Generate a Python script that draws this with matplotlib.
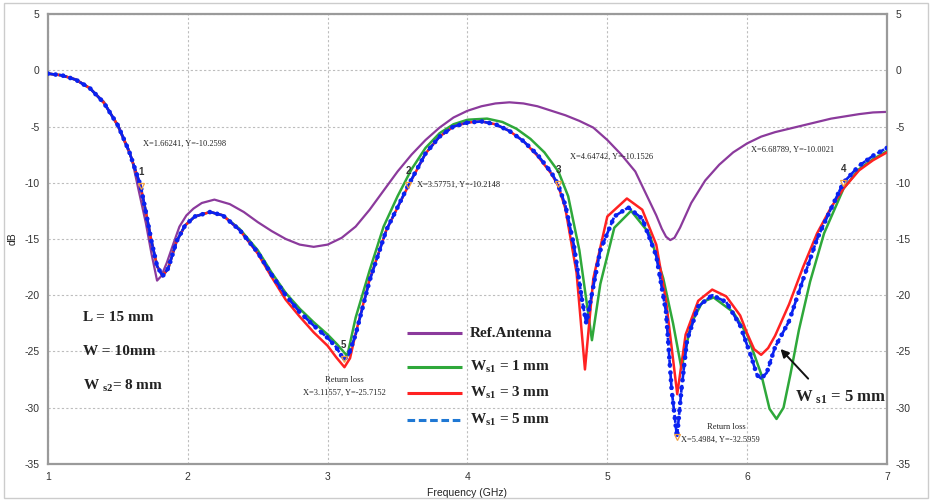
import matplotlib
matplotlib.use("Agg")
import matplotlib.pyplot as plt
from matplotlib.patches import Rectangle

# Return loss (dB) vs frequency (GHz) for the reference antenna and three slot widths
ref_f = [1.0, 1.1, 1.2, 1.3, 1.4, 1.5, 1.6, 1.64, 1.7, 1.74, 1.78, 1.81, 1.85, 1.9,
         1.94, 1.99, 2.04, 2.1, 2.19, 2.3, 2.4, 2.5, 2.6, 2.7, 2.8, 2.9, 3.0, 3.1, 3.2,
         3.3, 3.4, 3.5, 3.6, 3.7, 3.8, 3.9, 4.0, 4.1, 4.2, 4.3, 4.4, 4.5, 4.6, 4.7,
         4.8, 4.9, 5.0, 5.1, 5.2, 5.3, 5.35, 5.39, 5.42, 5.45, 5.48, 5.52, 5.6, 5.7,
         5.8, 5.9, 6.0, 6.1, 6.2, 6.3, 6.4, 6.5, 6.6, 6.7, 6.8, 6.9, 7.0]
ref_db = [-0.3, -0.45, -0.8, -1.6, -2.8, -5.0, -7.9, -10.2, -13.6, -16.3, -18.7, -18.3,
          -17.1, -15.3, -13.9, -12.9, -12.3, -11.8, -11.5, -11.9, -12.6, -13.5, -14.3,
          -15.0, -15.5, -15.7, -15.5, -14.9, -13.9, -12.4, -10.7, -9.0, -7.5, -6.2,
          -5.1, -4.2, -3.6, -3.2, -2.95, -2.85, -2.95, -3.2, -3.6, -4.0, -4.5, -5.1,
          -6.2, -7.5, -9.0, -11.6, -12.9, -14.1, -14.8, -15.1, -14.9, -14.0, -11.8,
          -9.8, -8.4, -7.3, -6.5, -5.9, -5.5, -5.2, -4.9, -4.6, -4.3, -4.1, -3.9,
          -3.75, -3.7]

ws1_1_f = [1.0, 1.1, 1.2, 1.3, 1.4, 1.5, 1.58, 1.66, 1.7, 1.74, 1.78, 1.82, 1.86, 1.92,
           1.98, 2.05, 2.16, 2.25, 2.37, 2.5, 2.6, 2.7, 2.8, 2.9, 3.0, 3.07, 3.14, 3.2,
           3.3, 3.4, 3.5, 3.6, 3.7, 3.8, 3.9, 4.0, 4.14, 4.25, 4.35, 4.45, 4.55, 4.65,
           4.72, 4.8, 4.89, 4.95, 5.05, 5.17, 5.3, 5.4, 5.47, 5.53, 5.6, 5.68, 5.76, 5.9,
           6.0, 6.1, 6.16, 6.21, 6.26, 6.31, 6.37, 6.45, 6.55, 6.69, 6.8, 6.9, 7.0]
ws1_1_db = [-0.3, -0.45, -0.85, -1.6, -2.9, -4.9, -7.2, -10.2, -12.6, -15.2, -17.4,
            -18.3, -17.6, -15.2, -13.8, -13.0, -12.6, -12.9, -14.1, -16.0, -18.0,
            -19.8, -21.2, -22.4, -23.5, -24.4, -25.4, -22.0, -17.8, -13.9, -11.2, -8.8,
            -6.9, -5.6, -4.8, -4.4, -4.3, -4.6, -5.2, -6.1, -7.3, -9.0, -11.2, -16.0,
            -24.0, -19.0, -14.0, -12.5, -14.5, -18.5, -22.5, -26.5, -22.5, -20.6, -20.2,
            -21.5, -23.5, -27.0, -30.1, -31.0, -30.0, -27.0, -23.1, -18.8, -14.5, -10.5,
            -8.8, -7.9, -7.2]

ws1_3_f = [1.0, 1.1, 1.2, 1.3, 1.4, 1.5, 1.58, 1.66, 1.7, 1.74, 1.78, 1.82, 1.86, 1.92,
           1.98, 2.05, 2.16, 2.25, 2.37, 2.5, 2.6, 2.7, 2.8, 2.9, 3.0, 3.06, 3.12, 3.16,
           3.2, 3.3, 3.42, 3.58, 3.7, 3.8, 3.9, 4.0, 4.1, 4.2, 4.3, 4.4, 4.5, 4.6, 4.65,
           4.7, 4.78, 4.84, 4.9, 5.0, 5.14, 5.25, 5.35, 5.42, 5.5, 5.56, 5.65, 5.75,
           5.85, 5.95, 6.0, 6.05, 6.1, 6.15, 6.2, 6.3, 6.4, 6.5, 6.6, 6.69, 6.8, 6.9,
           7.0]
ws1_3_db = [-0.3, -0.45, -0.85, -1.6, -2.9, -4.9, -7.2, -10.2, -12.6, -15.2, -17.4,
            -18.3, -17.6, -15.2, -13.8, -13.0, -12.6, -12.9, -14.2, -16.3, -18.4,
            -20.4, -21.9, -23.3, -24.5, -25.5, -26.4, -25.6, -23.4, -18.6, -14.2,
            -10.2, -7.4, -5.9, -5.0, -4.65, -4.55, -4.8, -5.4, -6.3, -7.6, -9.2, -10.3,
            -12.3, -18.0, -26.6, -18.5, -13.0, -11.4, -12.4, -15.5, -20.5, -28.8,
            -23.5, -20.5, -19.5, -20.1, -21.8, -23.4, -24.8, -25.3, -24.7, -23.6,
            -20.8, -17.5, -14.5, -12.2, -10.5, -8.9, -8.0, -7.3]

ws1_5_f = [1.0, 1.1, 1.2, 1.3, 1.4, 1.5, 1.58, 1.662, 1.7, 1.74, 1.78, 1.82, 1.86, 1.92,
           1.98, 2.05, 2.16, 2.25, 2.37, 2.5, 2.6, 2.7, 2.8, 2.9, 3.0, 3.06, 3.1156,
           3.15, 3.2, 3.3, 3.42, 3.5775, 3.7, 3.8, 3.9, 4.0, 4.1, 4.2, 4.3, 4.4, 4.5,
           4.6, 4.6474, 4.7, 4.76, 4.82, 4.85, 4.88, 4.95, 5.05, 5.15, 5.25, 5.35, 5.42,
           5.46, 5.4984, 5.53, 5.57, 5.65, 5.75, 5.85, 5.95, 6.03, 6.07, 6.1, 6.14, 6.2,
           6.3, 6.4, 6.5, 6.6, 6.6879, 6.8, 6.9, 7.0]
ws1_5_db = [-0.3, -0.45, -0.85, -1.6, -2.9, -4.9, -7.2, -10.26, -12.6, -15.2, -17.4,
            -18.3, -17.6, -15.2, -13.8, -13.0, -12.6, -12.9, -14.2, -16.2, -18.2,
            -20.0, -21.5, -22.7, -23.8, -24.6, -25.72, -25.3, -23.5, -18.7, -14.2,
            -10.21, -7.4, -5.9, -5.0, -4.65, -4.55, -4.8, -5.4, -6.3, -7.5, -9.1, -10.15,
            -12.0, -15.5, -20.5, -22.5, -20.5, -16.0, -13.0, -12.2, -13.2, -16.5, -21.5,
            -28.4, -32.6, -28.4, -24.0, -21.0, -20.0, -20.6, -22.7, -25.5, -27.1, -27.4,
            -26.9, -24.6, -22.3, -18.6, -15.0, -12.3, -10.0, -8.5, -7.6, -6.9]

# numbered markers placed on the curves
marker_ids = ["1", "2", "3", "4", "5", ""]
marker_f = [1.66241, 3.57751, 4.64742, 6.68789, 3.11557, 5.4984]
marker_db = [-10.2598, -10.2148, -10.1526, -10.0021, -25.7152, -32.5959]

series_labels = ["Ref.Antenna", r"W$_{s1}$ = 1 mm", r"W$_{s1}$ = 3 mm", r"W$_{s1}$ = 5 mm"]

plt.rcParams["mathtext.fontset"] = "custom"
plt.rcParams["mathtext.rm"] = "Liberation Serif:bold"
plt.rcParams["mathtext.bf"] = "Liberation Serif:bold"
plt.rcParams["mathtext.default"] = "bf"
plt.rcParams["axes.unicode_minus"] = False

fig = plt.figure(figsize=(9.32, 5.01), dpi=100)
ax = fig.add_axes([0.0515, 0.074, 0.9002, 0.898])

c_ref, c_g, c_r, c_b = "#8b3a9c", "#2ea83a", "#ff2222", "#0a22f0"

ax.plot(ref_f, ref_db, color=c_ref, lw=1.6, zorder=2)
ax.plot(ws1_1_f, ws1_1_db, color=c_g, lw=1.8, zorder=3)
ax.plot(ws1_3_f, ws1_3_db, color=c_r, lw=1.8, zorder=4)
# 5 mm: dashed line with a bead of dots along it
ax.plot(ws1_5_f, ws1_5_db, color=c_b, lw=1.9, ls=(0, (3, 1.2)), zorder=5)
ax.plot(ws1_5_f, ws1_5_db, color=c_b, lw=3.4, ls=(0, (0.01, 1.6)),
        dash_capstyle="round", zorder=5)

sans = ["Liberation Sans Narrow", "Liberation Sans"]
serif = "Liberation Serif"

# numbered markers with small orange triangles
for mid, mf, md in zip(marker_ids, marker_f, marker_db):
    ax.plot(mf, md, marker="v", ms=5, mfc="none", mec="#f0a040", mew=0.9, zorder=6)
    if mid:
        ax.text(mf, md + 0.8, mid, fontsize=7, fontweight="bold", color="#333333",
                family=sans, ha="center", va="bottom", zorder=7)

# marker readouts
ann_style = dict(fontsize=6, family=serif, color="#222222", va="center", ha="left")
ax.text(1.68, -6.5, "X=1.66241, Y=-10.2598", **ann_style)
ax.text(3.64, -10.2, "X=3.57751, Y=-10.2148", **ann_style)
ax.text(4.73, -7.7, "X=4.64742, Y=-10.1526", **ann_style)
ax.text(6.03, -7.1, "X=6.68789, Y=-10.0021", **ann_style)
ax.text(3.12, -27.5, "Return loss", fontsize=6, family=serif, color="#222222",
        ha="center", va="center")
ax.text(3.12, -28.7, "X=3.11557, Y=-25.7152", fontsize=6, family=serif,
        color="#222222", ha="center", va="center")
ax.text(5.71, -31.7, "Return loss", **ann_style)
ax.text(5.53, -32.9, "X=5.4984, Y=-32.5959", **ann_style)

# design parameters
par_style = dict(fontsize=11, family=serif, fontweight="bold", color="#222222",
                 ha="left", va="center")
ax.text(1.25, -22.0, "L = 15 mm", **par_style)
ax.text(1.25, -25.0, "W = 10mm", **par_style)
ax.text(1.25, -28.1, r"W $_{s2}$= 8 mm", **par_style)

ax.annotate("", xy=(6.225, -24.6), xytext=(6.45, -27.6),
            arrowprops=dict(arrowstyle="-|>", color="#111111", lw=1.4,
                            mutation_scale=12))
ax.text(6.34, -29.1, r"W $_{s1}$ = 5 mm", fontsize=12, family=serif,
        fontweight="bold", color="#222222", ha="left", va="center")

# legend rows drawn in axes fractions (uneven row spacing)
leg_rows = [0.291, 0.216, 0.158, 0.098]
leg_styles = [dict(color=c_ref), dict(color=c_g), dict(color=c_r),
              dict(color="#1f78d4", ls=(0, (2.5, 1.2)))]
for yrow, sty, lab in zip(leg_rows, leg_styles, series_labels):
    ax.plot([0.428, 0.493], [yrow, yrow], transform=ax.transAxes, lw=2.2,
            solid_capstyle="butt", zorder=8, **sty)
    ax.text(0.503, yrow, lab, transform=ax.transAxes, fontsize=11, family=serif,
            fontweight="bold", color="#222222", ha="left", va="center", zorder=8)

ax.set_xlim(1, 7)
ax.set_ylim(-35, 5)
ax.set_xticks(range(1, 8))
ax.set_yticks(range(-35, 10, 5))
ax.grid(True, ls=(0, (2, 2)), color="#bdbdbd", lw=0.8)
ax.tick_params(length=0, labelsize=7.5, labelcolor="#333333", pad=6,
               labelright=True, right=False)
for lab in ax.get_xticklabels() + ax.get_yticklabels():
    lab.set_family(sans)
for s in ax.spines.values():
    s.set_color("#9a9a9a")
    s.set_linewidth(1.6)

ax.set_xlabel("Frequency (GHz)", fontsize=7.5, family=sans, color="#222222",
              labelpad=4)
ax.set_ylabel("dB", fontsize=7.5, family=sans, color="#222222")
ax.yaxis.set_label_coords(-0.036, 0.5)

fig.patches.append(Rectangle((0.004, 0.006), 0.992, 0.988, transform=fig.transFigure,
                             fill=False, ec="#cccccc", lw=1.0))

fig.savefig("out.png", dpi=100)
